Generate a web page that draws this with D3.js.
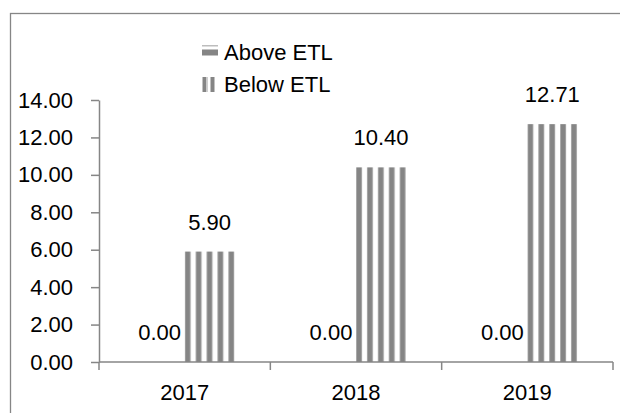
<!DOCTYPE html>
<html>
<head>
<meta charset="utf-8">
<script src="https://cdn.jsdelivr.net/npm/d3@7"></script>
<style>
	body { margin: 0; background: #fff; }
	svg text { font-family: "Liberation Sans", Arial, sans-serif; fill: #000; }
</style>
</head>
<body>
<svg id="chart" width="620" height="413"></svg>
<script>
// data
var years = ["2017", "2018", "2019"];
var series = ["Above ETL", "Below ETL"];
var above_etl = [0.00, 0.00, 0.00];
var below_etl = [5.90, 10.40, 12.71];
var y_ticks = [0, 2, 4, 6, 8, 10, 12, 14];

var svg = d3.select("#chart");
var fontSize = 22, gray = "#868686";

// chart area border
svg.append("rect")
	.attr("x", 10.5).attr("y", 13.5)
	.attr("width", 640).attr("height", 440)
	.attr("fill", "none").attr("stroke", gray).attr("stroke-width", 1.3);

var plotL = 99, plotR = 613, plotT = 100, plotB = 362;
var x = d3.scaleBand().domain(years).range([plotL, plotR]).paddingInner(0).paddingOuter(0);
var xs = d3.scaleBand().domain(series).range([0, x.bandwidth()]).paddingInner(0).paddingOuter(0.713);
var y = d3.scaleLinear().domain([0, 14]).range([plotB, plotT]);

var defs = svg.append("defs");
// one stripe pattern per bar so the stripes start at the bar edge
function stripePattern(id, x0){
	var p = defs.append("pattern").attr("id", id)
		.attr("patternUnits", "userSpaceOnUse")
		.attr("x", x0).attr("y", 0)
		.attr("width", 10.9).attr("height", 10);
	p.append("rect").attr("width", 10.9).attr("height", 10).attr("fill", "#fff");
	p.append("rect").attr("x", 0).attr("width", 6).attr("height", 10).attr("fill", "#858585");
	p.append("rect").attr("x", 0).attr("width", 0.8).attr("height", 10).attr("fill", "#b0b0b0");
	p.append("rect").attr("x", 5.2).attr("width", 0.8).attr("height", 10).attr("fill", "#a8a8a8");
	return "url(#" + id + ")";
}

var rows = years.map(function(d, i){
	return { year: d, vals: [above_etl[i], below_etl[i]] };
});

// bars
var g = svg.append("g");
rows.forEach(function(r, i){
	r.vals.forEach(function(v, j){
		var bx = x(r.year) + xs(series[j]);
		if (j === 1) {
			g.append("rect")
				.attr("x", bx).attr("y", y(v))
				.attr("width", xs.bandwidth()).attr("height", y(0) - y(v))
				.attr("fill", stripePattern("st" + i, bx));
		}
		g.append("text")
			.attr("x", bx + xs.bandwidth() / 2)
			.attr("y", y(v) - 22)
			.attr("text-anchor", "middle")
			.attr("font-size", fontSize)
			.text(v.toFixed(2));
	});
});

// y axis
var yAxis = svg.append("g").attr("transform", "translate(" + plotL + ",0)")
	.call(d3.axisLeft(y).tickValues(y_ticks).tickFormat(d3.format(".2f")).tickSize(8).tickPadding(18).tickSizeOuter(0));
yAxis.select(".domain").attr("stroke", gray).attr("stroke-width", 1.5);
yAxis.selectAll(".tick line").attr("stroke", gray).attr("stroke-width", 1.5);
yAxis.selectAll("text").attr("font-size", fontSize).attr("font-family", null).attr("fill", "#000");

// x axis: ticks at category boundaries
var xg = svg.append("g");
xg.append("line").attr("x1", plotL).attr("x2", plotR).attr("y1", plotB).attr("y2", plotB)
	.attr("stroke", gray).attr("stroke-width", 1.5);
xg.selectAll(".xt").data(years.concat([null])).enter().append("line")
	.attr("x1", function(d, i){ return i < years.length ? x(d) : plotR; })
	.attr("x2", function(d, i){ return i < years.length ? x(d) : plotR; })
	.attr("y1", plotB).attr("y2", plotB + 8)
	.attr("stroke", gray).attr("stroke-width", 1.5);
xg.selectAll(".xl").data(years).enter().append("text")
	.attr("x", function(d){ return x(d) + x.bandwidth() / 2; })
	.attr("y", 400)
	.attr("text-anchor", "middle")
	.attr("font-size", fontSize)
	.text(function(d){ return d; });

// legend
var lg = svg.append("g");
// Above ETL: horizontal bands
lg.append("rect").attr("x", 202).attr("y", 45).attr("width", 16).attr("height", 1.5).attr("fill", "#bdbdbd");
lg.append("rect").attr("x", 202).attr("y", 49.5).attr("width", 16).attr("height", 6).attr("fill", "#858585");
lg.append("text").attr("x", 224).attr("y", 60).attr("font-size", fontSize).text(series[0]);
// Below ETL: vertical stripes
[202.5, 210.5].forEach(function(sx){
	lg.append("rect").attr("x", sx).attr("y", 77).attr("width", 4).attr("height", 15).attr("fill", "#858585");
});
lg.append("rect").attr("x", 206.5).attr("y", 77).attr("width", 1.5).attr("height", 15).attr("fill", "#cfcfcf");
lg.append("text").attr("x", 224).attr("y", 92).attr("font-size", fontSize).text(series[1]);
</script>
</body>
</html>
